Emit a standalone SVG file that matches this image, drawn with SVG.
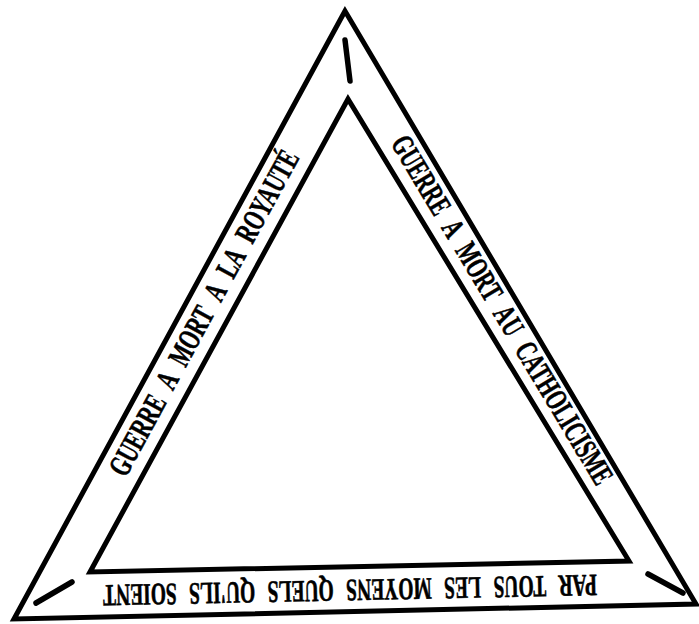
<svg xmlns="http://www.w3.org/2000/svg" width="699" height="624" viewBox="0 0 699 624">
  <style>
    .frame { fill: none; stroke: #000; stroke-width: 5; stroke-linejoin: miter; stroke-miterlimit: 10; }
    .tick { stroke: #000; stroke-width: 5.5; stroke-linecap: round; }
    .band { font-family: "Liberation Serif", "DejaVu Serif", serif; font-weight: bold; font-size: 31px; word-spacing: 12px; fill: #000; stroke: #000; stroke-width: 0.6; text-anchor: middle; }
  </style>
  <rect width="699" height="624" fill="#fff"/>
  <g id="outer-triangle">
    <polygon class="frame" points="345,11 14,619 696,604"/>
  </g>
  <g id="inner-triangle">
    <polygon class="frame" points="348,99 90,572 629,561"/>
  </g>
  <g id="ticks">
    <line class="tick" x1="345" y1="40" x2="350" y2="81"/>
    <line class="tick" x1="72" y1="582" x2="36" y2="603"/>
    <line class="tick" x1="648" y1="574" x2="683" y2="593"/>
  </g>
  <g id="label-left" transform="translate(204,313) rotate(-61.5)">
    <text class="band" x="0" y="10" textLength="365" lengthAdjust="spacingAndGlyphs">GUERRE A MORT A LA ROYAUTÉ</text>
  </g>
  <g id="label-right" transform="translate(502,310) rotate(59)">
    <text class="band" x="0" y="10" textLength="401" lengthAdjust="spacingAndGlyphs">GUERRE A MORT AU CATHOLICISME</text>
  </g>
  <g id="label-bottom" transform="translate(350,590) rotate(178.8)">
    <text class="band" x="0" y="10" textLength="494" lengthAdjust="spacingAndGlyphs">PAR TOUS LES MOYENS QUELS QU'ILS SOIENT</text>
  </g>
</svg>
